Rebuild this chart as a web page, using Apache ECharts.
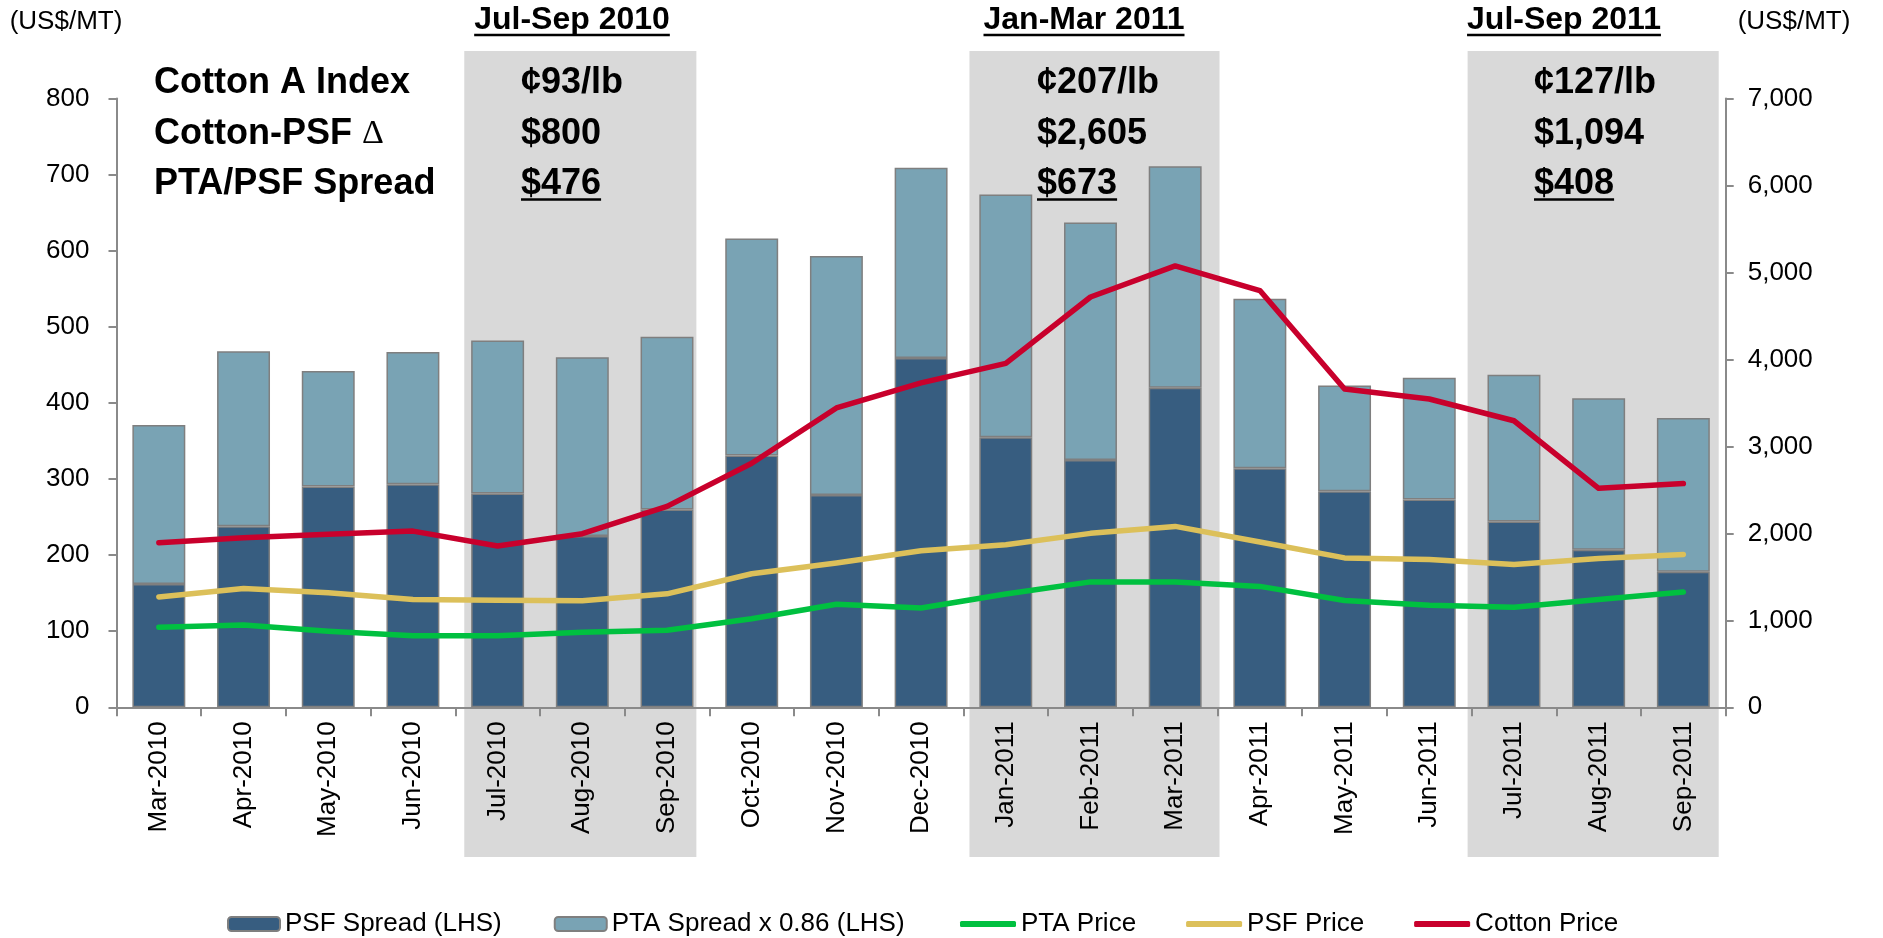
<!DOCTYPE html>
<html><head><meta charset="utf-8">
<script src="https://cdn.jsdelivr.net/npm/echarts/dist/echarts.min.js"></script>
<style>html,body{margin:0;padding:0;background:#fff}#c{width:1883px;height:938px}</style>
</head><body><div id="c"></div>
<script>
// ---------- DATA ----------
const categories = ['Mar-2010','Apr-2010','May-2010','Jun-2010','Jul-2010','Aug-2010','Sep-2010','Oct-2010','Nov-2010','Dec-2010','Jan-2011','Feb-2011','Mar-2011','Apr-2011','May-2011','Jun-2011','Jul-2011','Aug-2011','Sep-2011'];
const psfSpread = [162, 238, 290, 293, 281, 225, 260, 331, 279, 459, 355, 325, 420, 314, 284, 273, 244, 207, 178];
const ptaSpread = [209, 230, 152, 174, 201, 235, 227, 285, 314, 250, 319, 312, 291, 223, 139, 160, 193, 199, 202];
const ptaPrice = [920, 945, 875, 822, 822, 862, 886, 1019, 1184, 1142, 1303, 1442, 1440, 1390, 1228, 1173, 1150, 1240, 1326];
const psfPrice = [1268, 1365, 1316, 1240, 1230, 1226, 1305, 1535, 1660, 1800, 1870, 2000, 2080, 1900, 1718, 1700, 1642, 1710, 1758];
const cottonPrice = [1893, 1950, 1990, 2026, 1855, 1996, 2310, 2806, 3442, 3730, 3955, 4718, 5075, 4792, 3660, 3545, 3295, 2518, 2572];
const leftAxisMax = 800, leftAxisStep = 100;
const rightAxisMax = 7000, rightAxisStep = 1000;
const seriesNames = ['PSF Spread (LHS)', 'PTA Spread x 0.86 (LHS)', 'PTA Price', 'PSF Price', 'Cotton Price'];
const unitLabel = '(US$/MT)';
const rowLabels = ['Cotton A Index', 'Cotton-PSF ', 'PTA/PSF Spread'];
const deltaSymbol = '\u0394';
const periodLabels = ['Jul-Sep 2010', 'Jan-Mar 2011', 'Jul-Sep 2011'];
const periodFrom = ['Jul-2010', 'Jan-2011', 'Jul-2011'];
const periodTo = ['Sep-2010', 'Mar-2011', 'Sep-2011'];
const periodCotton = ['\u00a293/lb', '\u00a2207/lb', '\u00a2127/lb'];
const periodDelta = ['$800', '$2,605', '$1,094'];
const periodSpread = ['$476', '$673', '$408'];

// ---------- STYLE / LAYOUT ----------
const FONT = "'Liberation Sans', Arial, sans-serif";
const AX = '#8a8a8a';
const C_DARK = '#375d80', C_LIGHT = '#79a3b4', C_GREEN = '#00c040', C_YELLOW = '#dcc05a', C_RED = '#c8002c';
const shadePad = [[9, -13], [6, 2], [-4, -7]];
const headerX = [572, 1084, 1564];
const valueX = [521, 1037, 1534];
const rowLabelX = 154;
const rowY = [83, 134, 184];

const chart = echarts.init(document.getElementById('c'), null, {renderer: 'canvas'});

const option = {
  animation: false,
  textStyle: {fontFamily: FONT},
  grid: {left: 116.5, right: 157.3, top: 98.5, bottom: 230.7, containLabel: false, outerBoundsMode: 'none'},
  xAxis: {
    type: 'category', data: categories,
    axisLine: {lineStyle: {color: AX, width: 2}},
    axisTick: {show: true, length: 9, lineStyle: {color: AX, width: 2}},
    axisLabel: {rotate: 90, fontSize: 26, color: '#000', margin: 14, interval: 0, fontFamily: FONT}
  },
  yAxis: [
    {type: 'value', min: 0, max: leftAxisMax, interval: leftAxisStep, position: 'left',
     axisLine: {show: true, lineStyle: {color: AX, width: 2}},
     axisTick: {show: true, length: 8, lineStyle: {color: AX, width: 2}},
     splitLine: {show: false},
     axisLabel: {fontSize: 26, color: '#000', margin: 27, fontFamily: FONT}},
    {type: 'value', min: 0, max: rightAxisMax, interval: rightAxisStep, position: 'right',
     axisLine: {show: true, lineStyle: {color: AX, width: 2}},
     axisTick: {show: true, length: 8, lineStyle: {color: AX, width: 2}},
     splitLine: {show: false},
     axisLabel: {fontSize: 26, color: '#000', margin: 22, fontFamily: FONT,
       formatter: v => v.toLocaleString('en-US')}}
  ],
  legend: [
    {data: seriesNames.slice(0, 2), left: 227, top: 911, padding: 0, itemWidth: 52, itemHeight: 14, itemGap: 52,
     textStyle: {fontSize: 26, color: '#000', fontFamily: FONT}},
    {data: seriesNames.slice(2), left: 960, top: 911, padding: 0, itemWidth: 56, itemHeight: 6, itemGap: 50, icon: 'roundRect',
     textStyle: {fontSize: 26, color: '#000', fontFamily: FONT}}
  ],
  series: [
    {name: seriesNames[0], type: 'bar', stack: 'spread', data: psfSpread, barWidth: '62.5%', z: 3,
     itemStyle: {color: C_DARK, borderColor: '#7f7f7f', borderWidth: 1.5}},
    {name: seriesNames[1], type: 'bar', stack: 'spread', data: ptaSpread, barWidth: '62.5%', z: 3,
     itemStyle: {color: C_LIGHT, borderColor: '#7f7f7f', borderWidth: 1.5}},
    {name: seriesNames[2], type: 'line', yAxisIndex: 1, data: ptaPrice, symbol: 'none', z: 5,
     lineStyle: {color: C_GREEN, width: 5.5, cap: 'round', join: 'round'}, itemStyle: {color: C_GREEN}},
    {name: seriesNames[3], type: 'line', yAxisIndex: 1, data: psfPrice, symbol: 'none', z: 5,
     lineStyle: {color: C_YELLOW, width: 5.5, cap: 'round', join: 'round'}, itemStyle: {color: C_YELLOW}},
    {name: seriesNames[4], type: 'line', yAxisIndex: 1, data: cottonPrice, symbol: 'none', z: 5,
     lineStyle: {color: C_RED, width: 5.5, cap: 'round', join: 'round'}, itemStyle: {color: C_RED}}
  ]
};
chart.setOption(option);

// ---------- ANNOTATIONS ----------
const mctx = document.createElement('canvas').getContext('2d');
function textW(str, font) { mctx.font = font; return mctx.measureText(str).width; }

function buildGraphics() {
  const els = [];
  const px = c => chart.convertToPixel({xAxisIndex: 0}, c);
  const cw = px(categories[1]) - px(categories[0]);
  const boldH = 'bold 32px "Liberation Sans"';
  const boldV = 'bold 36px "Liberation Sans"';
  periodLabels.forEach((lab, i) => {
    const x0 = px(periodFrom[i]) - cw / 2 + shadePad[i][0];
    const x1 = px(periodTo[i]) + cw / 2 + shadePad[i][1];
    els.push({type: 'rect', z: -10, silent: true, shape: {x: x0, y: 51, width: x1 - x0, height: 806}, style: {fill: '#d9d9d9'}});
    const hw = textW(lab, boldH);
    els.push({type: 'text', z: 10, x: headerX[i], y: 20, style: {text: lab, font: boldH, fill: '#000', align: 'center', verticalAlign: 'middle'}});
    els.push({type: 'line', z: 10, shape: {x1: headerX[i] - hw / 2, y1: 35, x2: headerX[i] + hw / 2, y2: 35}, style: {stroke: '#000', lineWidth: 2.5}});
    const vals = [periodCotton[i], periodDelta[i], periodSpread[i]];
    vals.forEach((v, r) => {
      els.push({type: 'text', z: 10, x: valueX[i], y: rowY[r], style: {text: v, font: boldV, fill: '#000', align: 'left', verticalAlign: 'middle'}});
    });
    const sw = textW(periodSpread[i], boldV);
    els.push({type: 'line', z: 10, shape: {x1: valueX[i], y1: rowY[2] + 15.5, x2: valueX[i] + sw, y2: rowY[2] + 15.5}, style: {stroke: '#000', lineWidth: 2.5}});
  });
  rowLabels.forEach((lab, r) => {
    if (r === 1) {
      els.push({type: 'text', z: 10, x: rowLabelX, y: rowY[r], style: {
        text: '{b|' + lab + '}{n|' + deltaSymbol + '}', align: 'left', verticalAlign: 'middle',
        rich: {b: {font: boldV, fill: '#000'}, n: {font: '34px "Liberation Serif"', fill: '#000'}}}});
    } else {
      els.push({type: 'text', z: 10, x: rowLabelX, y: rowY[r], style: {text: lab, font: boldV, fill: '#000', align: 'left', verticalAlign: 'middle'}});
    }
  });
  els.push({type: 'text', x: 66, y: 22, style: {text: unitLabel, font: '26px "Liberation Sans"', fill: '#000', align: 'center', verticalAlign: 'middle'}});
  els.push({type: 'text', x: 1794, y: 22, style: {text: unitLabel, font: '26px "Liberation Sans"', fill: '#000', align: 'center', verticalAlign: 'middle'}});
  chart.setOption({graphic: {elements: els}});
}
buildGraphics();
</script>
</body></html>
